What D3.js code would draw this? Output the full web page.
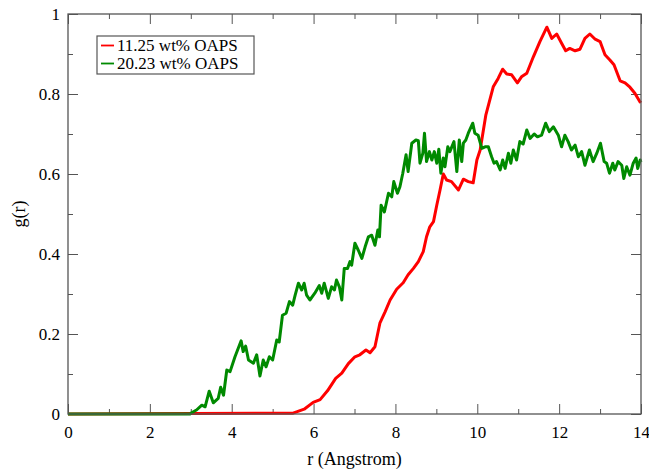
<!DOCTYPE html>
<html>
<head>
<meta charset="utf-8">
<script src="https://cdn.jsdelivr.net/npm/d3@7"></script>
<style>
  body { margin: 0; background: #fff; }
  text { font-family: "Liberation Serif", "DejaVu Serif", serif; fill: #000; }
</style>
</head>
<body>
<div id="chart"></div>
<script>
// Donnees
var serieRouge = "11.25 wt% OAPS";
var serieVerte = "20.23 wt% OAPS";

var rougeR = [0, 5.50, 5.77, 5.99, 6.16, 6.34, 6.54, 6.69, 6.85, 7.01, 7.13, 7.28, 7.38, 7.50, 7.62, 7.75, 7.87, 8.03,
  8.19, 8.31, 8.44, 8.56, 8.68, 8.76, 8.84, 8.93, 9.01, 9.09, 9.17, 9.25, 9.37, 9.54, 9.66, 9.78, 9.90, 9.99, 10.07,
  10.21, 10.39, 10.51, 10.62, 10.72, 10.84, 10.98, 11.08, 11.21, 11.37, 11.53, 11.70, 11.82, 11.94, 12.06, 12.16,
  12.26, 12.39, 12.51, 12.63, 12.75, 12.88, 13.00, 13.12, 13.24, 13.34, 13.49, 13.61, 13.73, 13.85, 13.97, 14.0];
var rougeG = [0, 0.002, 0.012, 0.029, 0.036, 0.058, 0.089, 0.102, 0.126, 0.143, 0.148, 0.160, 0.153, 0.168, 0.227,
  0.256, 0.285, 0.312, 0.328, 0.348, 0.364, 0.381, 0.406, 0.443, 0.468, 0.481, 0.522, 0.560, 0.600, 0.585, 0.581,
  0.560, 0.587, 0.581, 0.578, 0.635, 0.660, 0.748, 0.818, 0.839, 0.862, 0.850, 0.848, 0.828, 0.843, 0.852, 0.893,
  0.931, 0.967, 0.939, 0.950, 0.927, 0.908, 0.914, 0.908, 0.912, 0.939, 0.950, 0.937, 0.931, 0.898, 0.885, 0.873,
  0.833, 0.828, 0.817, 0.802, 0.781, 0.778];

var verteR = [0, 2.98, 3.02, 3.14, 3.27, 3.35, 3.45, 3.55, 3.67, 3.73, 3.80, 3.88, 3.96, 4.08, 4.23, 4.28, 4.34, 4.41,
  4.53, 4.61, 4.69, 4.77, 4.84, 4.92, 5.00, 5.10, 5.16, 5.24, 5.33, 5.41, 5.49, 5.55, 5.63, 5.71, 5.77, 5.83, 5.91,
  6.03, 6.14, 6.20, 6.26, 6.36, 6.44, 6.51, 6.56, 6.63, 6.69, 6.75, 6.83, 6.89, 6.93, 7.01, 7.09, 7.18, 7.26, 7.34,
  7.42, 7.50, 7.57, 7.61, 7.65, 7.73, 7.83, 7.91, 7.96, 8.05, 8.11, 8.18, 8.26, 8.31, 8.40, 8.50, 8.56, 8.60, 8.67,
  8.71, 8.76, 8.83, 8.89, 8.95, 9.01, 9.06, 9.11, 9.17, 9.21, 9.28, 9.33, 9.43, 9.50, 9.56, 9.62, 9.66, 9.72, 9.78,
  9.89, 9.94, 10.02, 10.11, 10.19, 10.27, 10.35, 10.41, 10.47, 10.56, 10.62, 10.68, 10.76, 10.82, 10.88, 10.96,
  11.04, 11.12, 11.21, 11.29, 11.39, 11.47, 11.57, 11.67, 11.76, 11.86, 11.98, 12.06, 12.14, 12.22, 12.30, 12.39,
  12.47, 12.55, 12.63, 12.74, 12.83, 12.92, 13.01, 13.10, 13.16, 13.23, 13.31, 13.36, 13.44, 13.53, 13.58, 13.65,
  13.73, 13.81, 13.88, 13.92, 13.98, 14.0];
var verteG = [0, 0, 0.003, 0.010, 0.022, 0.018, 0.057, 0.028, 0.039, 0.067, 0.047, 0.110, 0.106, 0.143, 0.183,
  0.156, 0.170, 0.135, 0.127, 0.148, 0.095, 0.135, 0.118, 0.143, 0.135, 0.185, 0.180, 0.247, 0.252, 0.281, 0.272,
  0.297, 0.327, 0.310, 0.327, 0.297, 0.285, 0.302, 0.321, 0.302, 0.327, 0.289, 0.318, 0.310, 0.335, 0.318, 0.285,
  0.364, 0.364, 0.381, 0.372, 0.427, 0.410, 0.389, 0.418, 0.443, 0.447, 0.422, 0.460, 0.443, 0.522, 0.505, 0.552,
  0.543, 0.581, 0.552, 0.568, 0.602, 0.648, 0.606, 0.677, 0.685, 0.683, 0.627, 0.652, 0.702, 0.631, 0.656, 0.635,
  0.656, 0.627, 0.662, 0.602, 0.640, 0.618, 0.668, 0.656, 0.681, 0.606, 0.685, 0.631, 0.677, 0.685, 0.702, 0.727,
  0.702, 0.697, 0.664, 0.668, 0.668, 0.643, 0.627, 0.631, 0.610, 0.635, 0.614, 0.652, 0.627, 0.660, 0.635, 0.681,
  0.675, 0.710, 0.689, 0.700, 0.693, 0.697, 0.727, 0.706, 0.718, 0.697, 0.668, 0.697, 0.681, 0.660, 0.672, 0.643,
  0.656, 0.622, 0.660, 0.631, 0.652, 0.677, 0.631, 0.627, 0.602, 0.627, 0.610, 0.631, 0.622, 0.589, 0.618, 0.597,
  0.627, 0.640, 0.614, 0.635, 0.630];

var ticksX = [0, 2, 4, 6, 8, 10, 12, 14];
var ticksY = [0, 0.2, 0.4, 0.6, 0.8, 1];
var ticksLabelsY = ["0", "0.2", "0.4", "0.6", "0.8", "1"];

// Dimensions
var largeur = 649, hauteur = 470;
var marge = { haut: 14, droite: 8, bas: 56, gauche: 68 };
var gris = "#555";

var svg = d3.select("#chart").append("svg").attr("width", largeur).attr("height", hauteur);

var x = d3.scaleLinear().domain([0, 14]).range([marge.gauche, largeur - marge.droite]);
var y = d3.scaleLinear().domain([0, 1]).range([hauteur - marge.bas, marge.haut]);

// Axes (ticks vers l'interieur, sur les 4 cotes)
function axe (generateur, translation, majeurs, mineurs, etiquettes) {
    var g = svg.append("g").attr("transform", translation);
    g.call(generateur.tickValues(mineurs).tickSize(5).tickFormat(""));
    g.selectAll(".domain").remove();
    var g2 = svg.append("g").attr("transform", translation);
    g2.call(generateur.tickValues(majeurs).tickSize(10).tickFormat(etiquettes));
    g2.selectAll(".domain").remove();
    g.selectAll("line").attr("stroke", gris);
    g2.selectAll("line").attr("stroke", gris);
    return g2;
}

var mineursX = d3.range(1, 14, 2);
var mineursY = d3.range(1, 10, 2).map(function (d) { return d / 10; });
var fmtY = function (d, i) { return ticksLabelsY[i]; };

var bas = axe(d3.axisTop(x), "translate(0," + y(0) + ")", ticksX, mineursX, function (d) { return d; });
bas.selectAll("text").attr("y", 24).attr("dy", 0).style("font-size", "17px").attr("fill", "#000");
axe(d3.axisBottom(x), "translate(0," + y(1) + ")", ticksX, mineursX, "");
var gauche = axe(d3.axisRight(y), "translate(" + x(0) + ",0)", ticksY, mineursY, fmtY);
gauche.selectAll("text").attr("x", -8).attr("dy", "0.35em").attr("text-anchor", "end")
    .style("font-size", "17px").attr("fill", "#000");
axe(d3.axisLeft(y), "translate(" + x(14) + ",0)", ticksY, mineursY, "");

// Courbes
var ligne = d3.line().x(function (d) { return x(d[0]); }).y(function (d) { return y(d[1]); });
var donneesRouge = d3.zip(rougeR, rougeG);
var donneesVerte = d3.zip(verteR, verteG);

svg.append("path").datum(donneesRouge).attr("d", ligne)
    .attr("fill", "none").attr("stroke", "#ff0000").attr("stroke-width", 3).attr("stroke-linejoin", "round");
svg.append("path").datum(donneesVerte).attr("d", ligne)
    .attr("fill", "none").attr("stroke", "#008a00").attr("stroke-width", 3).attr("stroke-linejoin", "round");

// Cadre
svg.append("rect").attr("x", x(0)).attr("y", y(1)).attr("width", x(14) - x(0)).attr("height", y(0) - y(1))
    .attr("fill", "none").attr("stroke", gris).attr("stroke-width", 1.3);

// Titres
svg.append("text").attr("x", (x(0) + x(14)) / 2).attr("y", 465).attr("text-anchor", "middle")
    .style("font-size", "18px").text("r (Angstrom)");
svg.append("text").attr("transform", "translate(25," + y(0.5) + ") rotate(-90)").attr("text-anchor", "middle")
    .style("font-size", "18px").text("g(r)");

// Legende
var legende = svg.append("g").attr("transform", "translate(97,36)");
legende.append("rect").attr("width", 157).attr("height", 38)
    .attr("fill", "#fff").attr("stroke", gris).attr("stroke-width", 1.2);
[[serieRouge, "#ff0000"], [serieVerte, "#008a00"]].forEach(function (s, i) {
    var cy = 9.5 + i * 18;
    legende.append("line").attr("x1", 4).attr("x2", 17).attr("y1", cy).attr("y2", cy)
        .attr("stroke", s[1]).attr("stroke-width", 1.8);
    legende.append("text").attr("x", 20).attr("y", cy).attr("dy", "0.35em")
        .style("font-size", "17px").text(s[0]);
});
</script>
</body>
</html>
